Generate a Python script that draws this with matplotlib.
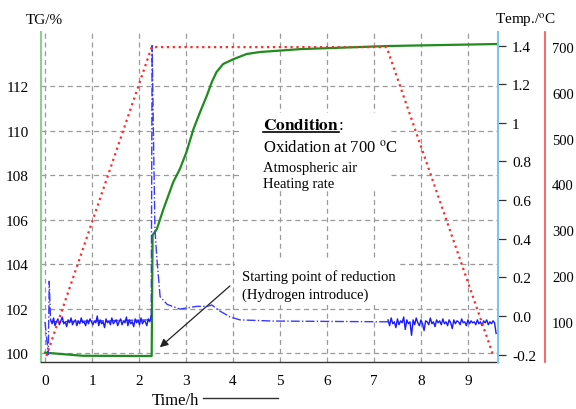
import numpy as np
import matplotlib.pyplot as plt
from matplotlib.lines import Line2D
from matplotlib.patches import Rectangle

plt.rcParams['font.family'] = ['Liberation Serif', 'DejaVu Serif']
plt.rcParams['mathtext.fontset'] = 'stix'

# TG curve (%)
tg_time = [0.0, 0.4, 0.8, 2.27, 2.29, 2.38, 2.52, 2.73, 2.87, 3.01, 3.16, 3.30,
           3.44, 3.55, 3.65, 3.79, 4.01, 4.29, 4.57, 5.43, 7.3, 9.62]
tg_value = [100.02, 99.95, 99.88, 99.87, 105.3, 105.57, 106.47, 107.69, 108.27,
            109.03, 110.07, 110.83, 111.55, 112.18, 112.63, 112.99, 113.21,
            113.44, 113.53, 113.66, 113.8, 113.89]

# temperature program (oC)
temp_time = [0.03, 2.27, 7.27, 9.53]
temp_value = [25, 700, 700, 29]

# DTG, smooth (dash-dot) part
dtg_time = [0.0, 0.07, 0.09, 0.12, 2.26, 2.28, 2.31, 2.34, 2.38, 2.45, 2.6,
            2.87, 3.23, 3.45, 3.55, 3.72, 3.94, 4.15, 4.85, 7.3]
dtg_value = [-0.03, -0.2, 0.18, -0.03, -0.02, 1.40, 0.9, 0.45, 0.30, 0.10, 0.06,
             0.036, 0.05, 0.05, 0.057, 0.026, -0.005, -0.02, -0.026, -0.03]

# DTG, noisy parts (before hydrogen and during cooling)
noise1_range = (0.12, 2.26)
noise1 = [-0.02, -0.04, -0.01, -0.05, -0.03, -0.015, -0.045, -0.025, -0.005, -0.04,
          -0.03, -0.055, -0.02, -0.035, -0.01, -0.045, -0.03, -0.02, -0.05, -0.025,
          -0.04, -0.01, -0.035, -0.03, -0.05, -0.02, -0.04, -0.015, -0.03, -0.045,
          -0.025, -0.035, 0.0, -0.05, -0.02, -0.04, -0.03, -0.06, -0.015, -0.035,
          -0.025, -0.045, -0.01, -0.04, -0.03, -0.02, -0.05, -0.03, -0.015, -0.045,
          -0.025, -0.035, -0.005, -0.05, -0.02, -0.04, -0.03, -0.055, -0.015, -0.035,
          -0.02, -0.045, -0.01, -0.04, -0.025, -0.03, -0.05, -0.015, -0.03, 0.0]
noise2_range = (7.3, 9.6)
noise2 = [-0.02, -0.05, -0.01, -0.04, -0.03, -0.06, -0.015, -0.045, -0.025, -0.035,
          -0.005, -0.07, -0.02, -0.04, -0.03, -0.1, -0.02, -0.045, -0.01, -0.035,
          -0.05, -0.02, -0.04, -0.075, -0.025, -0.03, -0.045, -0.01, -0.04, -0.03,
          -0.055, -0.02, -0.035, -0.025, -0.045, -0.015, -0.04, -0.03, -0.05, -0.02,
          -0.035, -0.065, -0.02, -0.04, -0.025, -0.03, -0.045, -0.015, -0.035, -0.03,
          -0.05, -0.02, -0.04, -0.025, -0.035, -0.03, -0.045, -0.02, -0.04, -0.03,
          -0.05, -0.025, -0.035, -0.02, -0.045, -0.03, -0.04, -0.025, -0.035, -0.09]

tg_ticks = [100, 102, 104, 106, 108, 110, 112]
dtg_ticks = [1.4, 1.2, 1.0, 0.8, 0.6, 0.4, 0.2, 0.0, -0.2]
dtg_labels = ['1.4', '1.2', '1', '0.8', '0.6', '0.4', '0.2', '0.0', '-0.2']
temp_ticks = [100, 200, 300, 400, 500, 600, 700]
time_ticks = list(range(10))

fig = plt.figure(figsize=(5.76, 4.10), dpi=100)
ax = fig.add_axes([41 / 576, 47 / 410, 457 / 576, 330 / 410])
ax_dtg = ax.twinx()
ax_temp = ax.twinx()

# grid on TG axis
ax.set_axisbelow(True)
ax.grid(True, color='#9a9a9a', linestyle=(0, (4, 3)), linewidth=0.9)

# white boxes behind the text blocks (they hide the grid, as in the original)
ax.add_patch(Rectangle((4.2, 107.3), 3.15, 3.5, facecolor='white', edgecolor='none', zorder=1))
ax.add_patch(Rectangle((4.05, 102.2), 3.45, 2.0, facecolor='white', edgecolor='none', zorder=1))

ax.plot(tg_time, tg_value, color='#1e8c1e', lw=1.6, zorder=3)
ax_temp.plot(temp_time, temp_value, color='#ff2a2a', lw=1.6, linestyle=':')
ax_dtg.plot(dtg_time, dtg_value, color='#3a3aff', lw=1.0, linestyle='-.')
ax_dtg.plot(np.linspace(*noise1_range, len(noise1)), noise1, color='#1a1aff', lw=1.0)
ax_dtg.plot(np.linspace(*noise2_range, len(noise2)), noise2, color='#1a1aff', lw=1.0)

ax.set_xlim(-0.085, 9.64)
ax.set_ylim(99.6, 114.43)
ax_dtg.set_ylim(-0.238, 1.47)
ax_temp.set_ylim(12, 733)

ax.set_xticks(time_ticks)
ax.set_yticks(tg_ticks)
ax_dtg.set_yticks(dtg_ticks)
ax_dtg.set_yticklabels(dtg_labels)
ax_temp.set_yticks(temp_ticks)

for a in (ax, ax_dtg, ax_temp):
    for s in a.spines.values():
        s.set_visible(False)

ax.spines['left'].set_visible(True)
ax.spines['left'].set_color('#8fd08f')
ax.spines['left'].set_linewidth(1.5)
ax.spines['bottom'].set_visible(True)
ax.spines['bottom'].set_color('#333333')
ax.spines['bottom'].set_linewidth(1.0)
ax.tick_params(axis='y', length=0, pad=9, labelsize=11)
ax.tick_params(axis='x', length=0, pad=9, labelsize=11)

ax_dtg.spines['right'].set_visible(True)
ax_dtg.spines['right'].set_color('#7cc4ea')
ax_dtg.spines['right'].set_linewidth(1.5)
ax_dtg.tick_params(axis='y', direction='out', length=6, width=0.9, color='#333333',
                   pad=4, labelsize=11)

ax_temp.spines['right'].set_visible(True)
ax_temp.spines['right'].set_position(('axes', 504 / 457))
ax_temp.spines['right'].set_color('#ff4a4a')
ax_temp.spines['right'].set_linewidth(1.2)
ax_temp.tick_params(axis='y', length=0, pad=5, labelsize=10.5)

# axis titles
fig.text(44 / 576, 1 - 20 / 410, 'TG/%', ha='center', va='center', fontsize=11)
fig.text(495 / 576, 1 - 20 / 410, r'Temp./$^{\mathrm{o}}$C', ha='left', va='center', fontsize=11)
fig.text(152 / 576, 1 - 401 / 410, 'Time/h', ha='left', va='center', fontsize=12)
fig.add_artist(Line2D([203 / 576, 278 / 576], [1 - 399 / 410, 1 - 399 / 410],
                      color='#333333', lw=1.0))

# condition text block
cond = ax.text(4.64, 110.25, r'$\mathbf{Condition}$', fontsize=12.5, va='center', zorder=4)
fig.canvas.draw()
bb = cond.get_window_extent().transformed(ax.transData.inverted())
ax.text(bb.x1, 110.25, ':', fontsize=12, va='center', zorder=4)
ax.plot([bb.x0, bb.x1], [bb.y0 + 0.05, bb.y0 + 0.05], color='black', lw=1.2, zorder=4)
ax.text(4.64, 109.26, r'Oxidation at 700 $^{\mathrm{o}}$C', fontsize=12, va='center', zorder=4)
ax.text(4.64, 108.36, 'Atmospheric air', fontsize=10.5, va='center', zorder=4)
ax.text(4.64, 107.6, 'Heating rate', fontsize=10.5, va='center', zorder=4)

# annotation
ax.text(4.19, 103.46, 'Starting point of reduction', fontsize=10.5, va='center', zorder=4)
ax.text(4.19, 102.65, '(Hydrogen introduce)', fontsize=10.5, va='center', zorder=4)
ax.annotate('', xy=(2.40, 100.18), xytext=(3.98, 103.1), zorder=4,
            arrowprops=dict(arrowstyle='-|>', color='#222222', lw=0.9,
                            mutation_scale=12))

fig.savefig('out.png', dpi=100)
